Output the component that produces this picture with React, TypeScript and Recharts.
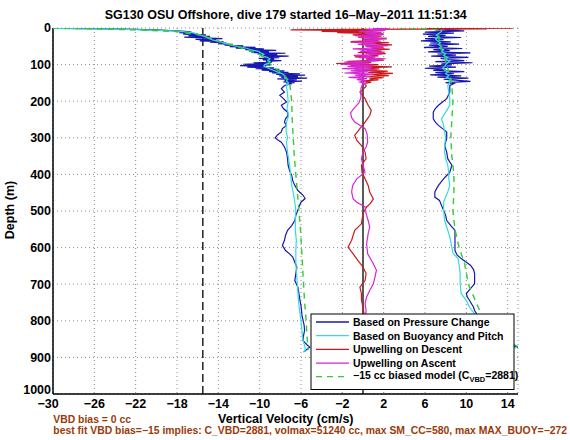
import { ScatterChart, Scatter, XAxis, YAxis, CartesianGrid, ReferenceLine } from 'recharts';

// axes
const X_TICKS = [-30, -26, -22, -18, -14, -10, -6, -2, 2, 6, 10, 14];
const Y_TICKS = [0, 100, 200, 300, 400, 500, 600, 700, 800, 900, 1000];
const X_DOMAIN: [number, number] = [-30, 15];
const Y_DOMAIN: [number, number] = [0, 1000];
const ZERO_LINE = 0;
const BIAS_LINE = -15.5;

// [depth m, vertical velocity cm/s]
const pressureDown: [number, number][] = [
  [1, -30], [2, -26], [3, -23], [5, -20], [7, -18.5], [9, -17.2], [11, -16.6], [13, -17.8], [15, -16], [17, -17.4],
  [19, -15.2], [21, -16.9], [23, -14.8], [25, -17.3], [27, -15.4], [29, -13.6], [31, -16.2], [33, -14.2], [35, -15.8],
  [37, -13.5], [39, -14.8], [41, -13.2], [43, -14], [45, -12.6], [47, -13.4], [49, -11.6], [51, -12.9], [53, -10.4],
  [55, -12.3], [57, -9.6], [59, -11.4], [61, -8.4], [63, -11], [65, -9.1], [67, -10.8], [69, -7.5], [71, -10.2],
  [73, -8.3], [75, -9.9], [77, -7.2], [79, -9.6], [81, -8.1], [83, -10.1], [85, -8.6], [87, -9.7], [89, -7.9],
  [91, -9.4], [93, -8.8], [95, -10.6], [97, -9], [99, -11.6], [101, -8.9], [103, -11.9], [105, -9.4], [107, -11.2],
  [109, -8.6], [111, -10.4], [113, -8.1], [115, -9.8], [117, -7.6], [119, -9.1], [121, -7.2], [123, -8.8], [125, -6.1],
  [127, -8.4], [129, -5.6], [131, -8.1], [133, -6.3], [135, -7.9], [137, -5.4], [139, -8.3], [141, -6.4], [143, -7.6],
  [145, -5.9], [147, -7.7], [149, -6.6], [151, -7.4], [153, -6.9], [156, -7.5],
  [160, -7.7], [166, -7.9], [175, -7.6], [184, -8.05], [193, -7.7], [202, -7.4], [211, -7.9], [220, -7.7], [230, -7.3],
  [239, -7.25], [248, -7.5], [257, -7.6], [266, -7.4], [275, -7.8], [284, -7.9], [293, -8.3], [300, -8.5], [307, -8.2],
  [312, -7.9], [325, -7.6], [339, -7.4], [357, -7.3], [375, -7.25], [390, -7.1], [403, -6.9], [417, -6.8], [430, -6.6],
  [444, -6.3], [457, -5.8], [466, -5.6], [476, -6.0], [489, -6.2], [498, -6.3], [512, -6.5], [526, -6.6], [540, -6.9],
  [553, -7.3], [567, -7.5], [580, -7.6], [594, -7.8], [608, -7.5], [617, -7.1], [626, -6.8], [640, -6.6], [653, -6.4],
  [671, -6.5], [690, -6.6], [708, -6.3], [726, -6.2], [744, -6.1], [758, -6.0], [772, -5.95], [786, -5.9], [799, -5.8],
  [812, -5.7], [826, -5.65], [840, -5.75], [854, -5.8], [866, -5.4], [872, -5.15], [880, -5.5], [885, -5.7],
];

const pressureUp: [number, number][] = [
  [2, 9.5], [5, 7], [8, 9.8], [11, 6], [14, 8.8], [17, 5.8], [20, 8], [23, 6.3], [26, 9.5], [29, 6], [32, 7.8],
  [35, 5.6], [38, 8.5], [41, 6.5], [44, 9.3], [47, 6.4], [50, 8.2], [53, 5.9], [56, 9.6], [59, 6.8], [62, 8.4],
  [65, 6.3], [68, 10.4], [71, 7.2], [74, 9], [77, 6.6], [80, 10.2], [83, 7.5], [86, 8.3], [89, 9.8], [92, 7],
  [95, 10.6], [98, 7.6], [101, 8.6], [104, 6.4], [107, 9], [110, 6], [113, 8], [116, 6.8], [119, 9.8], [122, 7],
  [125, 8.8], [128, 6.5], [131, 9.5], [134, 7.2], [137, 10.2], [140, 7.8], [143, 9.2], [146, 10.4], [149, 8],
  [152, 8.8], [157, 8.4], [175, 8.4], [193, 8.1], [202, 7.7], [211, 7.3], [220, 7.0], [230, 6.8], [248, 6.8],
  [257, 7.0], [266, 7.3], [275, 7.7], [284, 8.1], [302, 8.1], [321, 7.9], [339, 8.1], [357, 8.2], [375, 8.6],
  [394, 8.4], [403, 8.1], [412, 7.8], [430, 7.3], [448, 6.95], [462, 6.95], [471, 7.4], [485, 7.6], [498, 7.8],
  [512, 8.0], [526, 8.1], [540, 8.5], [553, 8.9], [580, 8.9], [608, 8.9], [620, 9.1], [630, 9.5], [640, 10.0],
  [648, 10.4], [660, 10.7], [671, 10.8], [685, 10.8], [699, 10.8], [712, 10.4], [726, 10.0], [735, 10.1], [744, 10.3],
  [763, 10.7], [772, 10.8], [781, 11.0], [800, 11.6], [820, 12.2], [840, 12.8], [860, 13.8], [875, 15.2],
];

const buoyDown: [number, number][] = [
  [1, -30], [2, -27.5], [4, -23], [6, -20.5], [8, -18.5], [10, -17.4], [13, -16.5], [16, -16.1], [20, -15.7],
  [24, -15.2], [28, -15], [32, -14.6], [36, -14.1], [40, -13.6], [44, -13.1], [48, -12.5], [52, -11.8], [56, -11.2],
  [60, -10.8], [64, -10.1], [68, -9.9], [72, -9.6], [76, -9.8], [80, -9.3], [84, -9.0], [88, -9.2], [92, -9.0],
  [96, -9.1], [100, -9.5], [104, -9.6], [108, -9.3], [112, -9.0], [116, -8.6], [120, -8.3], [124, -7.9], [128, -7.7],
  [132, -7.5], [136, -7.6], [140, -7.3], [145, -7.4], [150, -7.2], [155, -7.4],
  [160, -7.4], [180, -7.3], [202, -7.25], [220, -7.35], [240, -7.2], [257, -7.4], [280, -7.45], [300, -7.3],
  [312, -7.4], [340, -7.3], [375, -7.1], [400, -7.0], [430, -6.9], [450, -6.75], [476, -6.6], [498, -6.5],
  [520, -6.55], [553, -6.55], [580, -6.45], [608, -6.5], [640, -6.5], [663, -6.45], [700, -6.35], [744, -6.25],
  [770, -6.15], [800, -6.0], [830, -5.9], [854, -5.8], [872, -5.6], [881, -5.6], [886, -5.8],
];

const buoyUp: [number, number][] = [
  [2, 8], [6, 7.5], [10, 7.6], [15, 7.3], [20, 7.1], [25, 7.4], [30, 7], [35, 7.2], [40, 7.5], [45, 7.3], [50, 7.6],
  [55, 7.4], [60, 7.8], [65, 7.6], [70, 8], [75, 7.8], [80, 8.2], [85, 7.9], [90, 8.4], [95, 8.2], [100, 8],
  [105, 7.9], [110, 7.7], [115, 7.9], [120, 8.2], [125, 8], [130, 8.3], [135, 8.1], [140, 8.5], [145, 8.3], [150, 8.4],
  [157, 8.2], [175, 8.3], [193, 8.4], [211, 8.4], [230, 8.0], [248, 7.6], [266, 7.8], [284, 7.9], [300, 8.0],
  [321, 7.9], [340, 7.9], [357, 8.0], [375, 8.2], [394, 8.3], [412, 8.3], [430, 8.4], [448, 8.2], [462, 8.0],
  [476, 7.8], [498, 7.8], [526, 7.9], [553, 8.2], [571, 8.4], [585, 8.5], [600, 8.6], [615, 8.7], [630, 9.2],
  [648, 9.3], [671, 9.4], [699, 9.4], [726, 9.5], [744, 10.0], [763, 10.3], [781, 10.8], [800, 11.4], [820, 12.0],
  [840, 12.8], [860, 13.6], [875, 14.8],
];

const upwellDescent: [number, number][] = [
  [0.5, 14.5], [1.5, 6], [2.5, 12], [3.5, -1], [5, -7], [7, 2], [9, -4], [11, 1], [13, -2.5], [16, 2], [19, -1],
  [22, 1.8], [25, -0.5], [28, 2.3], [31, 0], [34, 1.5], [37, -1.2], [40, 2.5], [43, 0.5], [46, 2.8], [49, 0.2],
  [52, 2], [55, 0.8], [58, 2.6], [61, 0.4], [64, 1.8], [67, -0.5], [70, 2.2], [73, 0.6], [76, 1.5], [79, -0.8],
  [82, 1.2], [85, 0.3], [88, 2], [91, -1.5], [94, 0.8], [97, -2.6], [100, 1.5], [103, -1.2], [106, 2.8], [109, 0.2],
  [112, 1.6], [115, -0.8], [118, 2.4], [121, 0.5], [124, 2.9], [127, 0.8], [130, 2.5], [133, 0.2], [136, 2],
  [139, 0.6], [142, 1.5], [145, -0.2], [148, 0.8], [152, 0.1], [157, 0.3],
  [160, 0.3], [175, -0.3], [193, 0.2], [211, 0.5], [225, 0.8], [239, 0.65], [257, 0.2], [275, -0.3], [293, -0.8],
  [307, -0.6], [321, -0.15], [339, 0.2], [357, 0.3], [375, -0.15], [394, -0.1], [412, 0.2], [430, 0.5], [448, 0.65],
  [467, 1.0], [480, 0.7], [489, 0.35], [507, 0.0], [535, -0.15], [553, -0.8], [580, -1.1], [599, -1.45], [617, -0.95],
  [635, -0.5], [653, 0.0], [671, 0.3], [690, 0.2], [708, -0.3], [726, -0.15], [744, -0.15], [763, 0.0], [780, 0.1],
  [820, -0.1], [860, 0.1], [880, 0.0],
];

const upwellAscent: [number, number][] = [
  [0.5, 1], [2, 2.5], [4, 0.5], [6, 2.2], [9, -0.4], [12, 1.8], [15, 0.2], [18, 2], [21, -0.8], [24, 1.5],
  [27, -0.2], [30, 2.3], [33, 0], [36, 1.7], [39, -1.2], [42, 1.2], [45, -0.5], [48, 2.4], [51, 0.3], [54, 1.9],
  [57, -1], [60, 1.4], [63, -0.3], [66, 2.1], [69, 0.2], [72, 1.6], [75, -0.9], [78, 1.2], [81, -0.4], [84, 2.2],
  [87, 0.5], [90, 1.5], [93, -1.8], [96, 0.6], [99, -2.2], [102, 1], [105, -1.5], [108, 0.8], [111, -2], [114, 1.3],
  [117, -1.2], [120, 0.5], [123, -1.8], [126, 1], [129, -0.8], [132, 0.7], [135, -1.4], [138, 0.4], [141, -0.6],
  [144, 0.3], [148, -0.3], [152, 0.2], [157, -0.1], [165, -0.2],
  [175, -0.2], [190, -0.2], [205, -0.4], [220, -0.9], [232, -1.2], [245, -1.1], [257, -0.8], [266, -0.3],
  [275, 0.2], [290, 0.4], [312, 0.45], [325, 0.3], [339, 0.0], [357, -0.15], [375, 0.0], [394, 0.2], [412, -0.6],
  [430, -1.0], [448, -1.1], [467, -0.95], [476, -0.6], [489, 0.2], [507, 0.3], [526, 0.5], [544, 0.65], [562, 0.5],
  [590, 0.35], [617, 0.45], [644, 1.0], [662, 1.3], [681, 1.15], [699, 1.0], [717, 0.65], [735, 0.35], [753, 0.2],
  [772, 0.3], [800, 0.2], [840, 0.4], [880, 0.3],
];

const modelDown: [number, number][] = [
  [0, -30], [2, -27], [5, -22], [10, -18], [20, -15.6], [30, -14.6], [40, -13.5], [50, -12.3], [60, -11.2],
  [70, -10.2], [80, -9.6], [90, -9.2], [100, -8.9], [110, -8.5], [120, -8.0], [130, -7.6], [140, -7.3], [150, -7.1],
  [175, -7.0], [200, -6.9], [250, -6.85], [300, -6.75], [350, -6.65], [400, -6.5], [450, -6.35], [500, -6.2],
  [550, -6.05], [600, -5.95], [650, -5.85], [700, -5.75], [750, -5.65], [800, -5.5], [850, -5.4], [880, -5.3],
];

const modelUp: [number, number][] = [
  [0, 3.5], [2, 6.0], [5, 7.2], [10, 7.3], [20, 7.3], [40, 7.4], [60, 7.6], [80, 7.9], [100, 8.1], [120, 8.3],
  [140, 8.5], [160, 8.6], [200, 8.7], [250, 8.6], [300, 8.5], [350, 8.6], [400, 8.8], [450, 8.8], [500, 8.7],
  [550, 8.9], [600, 9.3], [640, 9.8], [700, 10.2], [740, 10.8], [772, 11.3], [800, 11.8], [830, 12.8], [855, 14.0],
  [868, 14.8], [880, 15.6],
];

const BLUE = '#1818b0';
const CYAN = '#33dddd';
const RED = '#cc1818';
const MAGENTA = '#d626d6';
const GREEN = '#33cc33';
const BROWN = '#9a3a0a';
const FONT = '"Liberation Sans", Arial, Helvetica, sans-serif';

const toPts = (rows: [number, number][]) => rows.map(([d, v]) => ({ d, v }));
const noShape = () => <g />;
const fmtX = (v: number) => (v < 0 ? `\u2212${-v}` : `${v}`);

const series = [
  { key: 'pd', rows: pressureDown, color: BLUE },
  { key: 'pu', rows: pressureUp, color: BLUE },
  { key: 'bd', rows: buoyDown, color: CYAN },
  { key: 'bu', rows: buoyUp, color: CYAN },
  { key: 'ud', rows: upwellDescent, color: RED },
  { key: 'ua', rows: upwellAscent, color: MAGENTA },
  { key: 'md', rows: modelDown, color: GREEN, dash: '6 5' },
  { key: 'mu', rows: modelUp, color: GREEN, dash: '6 5' },
];

const legendItems = [
  { label: 'Based on Pressure Change', color: BLUE },
  { label: 'Based on Buoyancy and Pitch', color: CYAN },
  { label: 'Upwelling on Descent', color: RED },
  { label: 'Upwelling on Ascent', color: MAGENTA },
];

// MATLAB nudges the corner labels apart (last y label up, first x label left)
function YTick(props: any) {
  const { x, y, payload } = props;
  const shift = payload.value === Y_DOMAIN[1] ? -4 : 0;
  return (
    <text x={x} y={y + shift} dy={4.4} textAnchor="end" fill="#000" fontSize={12.5} fontWeight="bold" fontFamily={FONT}>
      {payload.value}
    </text>
  );
}

function XTick(props: any) {
  const { x, y, payload } = props;
  const shift = payload.value === X_DOMAIN[0] ? -5 : 0;
  return (
    <text x={x + shift} y={y} dy={8.9} textAnchor="middle" fill="#000" fontSize={12.5} fontWeight="bold" fontFamily={FONT}>
      {fmtX(payload.value)}
    </text>
  );
}

export default function App() {
  const rowY = [322, 335.7, 349.4, 363.1, 376.6];
  return (
    <div style={{ position: 'absolute', left: 0, top: 0, width: 570, height: 440, background: '#fff' }}>
      <ScatterChart width={570} height={440} margin={{ top: 28, right: 52, bottom: 26, left: 0 }}>
        <CartesianGrid stroke="#8a8a8a" strokeDasharray="1 3" />
        <XAxis
          type="number"
          dataKey="v"
          domain={X_DOMAIN}
          ticks={X_TICKS}
          allowDataOverflow
          height={20}
          tickSize={0}
          tickMargin={5}
          tickLine={false}
          tick={XTick}
          axisLine={{ stroke: '#000', strokeWidth: 1.5 }}
        />
        <YAxis
          type="number"
          dataKey="d"
          domain={Y_DOMAIN}
          ticks={Y_TICKS}
          reversed
          allowDataOverflow
          width={53}
          tickSize={0}
          tickMargin={2}
          tickLine={false}
          tick={YTick}
          axisLine={{ stroke: '#000', strokeWidth: 1.5 }}
        />
        <XAxis xAxisId="b" type="number" domain={X_DOMAIN} ticks={X_TICKS} orientation="bottom" mirror height={0}
          tick={false} tickSize={5} axisLine={false} tickLine={{ stroke: '#000' }} />
        <XAxis xAxisId="t" type="number" domain={X_DOMAIN} ticks={X_TICKS} orientation="top" mirror height={0}
          tick={false} tickSize={5} axisLine={{ stroke: '#000', strokeWidth: 1.5 }} tickLine={{ stroke: '#000' }} />
        <YAxis yAxisId="l" type="number" domain={Y_DOMAIN} ticks={Y_TICKS} reversed orientation="left" mirror width={0}
          tick={false} tickSize={5} axisLine={false} tickLine={{ stroke: '#000' }} />
        <YAxis yAxisId="r" type="number" domain={Y_DOMAIN} ticks={Y_TICKS} reversed orientation="right" mirror width={0}
          tick={false} tickSize={5} axisLine={{ stroke: '#000', strokeWidth: 1.5 }} tickLine={{ stroke: '#000' }} />
        <ReferenceLine x={BIAS_LINE} stroke="#000" strokeWidth={1.3} strokeDasharray="8 4" />
        <ReferenceLine x={ZERO_LINE} stroke="#000" strokeWidth={1.3} />
        {series.map((s) => (
          <Scatter
            key={s.key}
            data={toPts(s.rows)}
            fill={s.color}
            shape={noShape}
            line={{ stroke: s.color, strokeWidth: s.dash ? 1.4 : 1.2, strokeDasharray: s.dash }}
            isAnimationActive={false}
          />
        ))}
      </ScatterChart>
      <svg
        width={570}
        height={440}
        style={{ position: 'absolute', left: 0, top: 0, pointerEvents: 'none', overflow: 'visible' }}
        fontFamily={FONT}
        fontWeight="bold"
      >
        <text x={285.8} y={18.5} fontSize={12.5} textAnchor="middle" fill="#000">
          SG130 OSU Offshore, dive 179 started 16–May–2011 11:51:34
        </text>
        <text x={285.8} y={422.5} fontSize={12.5} textAnchor="middle" fill="#000">
          Vertical Velocity (cm/s)
        </text>
        <text transform="translate(14,210) rotate(-90)" fontSize={12.5} textAnchor="middle" fill="#000">
          Depth (m)
        </text>
        <text x={53.3} y={423} fontSize={10.4} fill={BROWN}>
          VBD bias = 0 cc
        </text>
        <text x={53.3} y={434} fontSize={10.4} fill={BROWN}>
          best fit VBD bias=−15 implies: C_VBD=2881, volmax=51240 cc, max SM_CC=580, max MAX_BUOY=−272
        </text>
        <rect x={311} y={314} width={203} height={75.5} fill="#fff" stroke="#000" strokeWidth={1} />
        {legendItems.map((it, i) => (
          <g key={it.label}>
            <line x1={316} x2={349} y1={rowY[i]} y2={rowY[i]} stroke={it.color} strokeWidth={1.3} />
            <text x={353} y={rowY[i] + 3.8} fontSize={10.5} fill="#000">
              {it.label}
            </text>
          </g>
        ))}
        <line x1={316} x2={349} y1={rowY[4]} y2={rowY[4]} stroke={GREEN} strokeWidth={1.4} strokeDasharray="6 5" />
        <text x={353} y={rowY[4] + 2.6} fontSize={10.5} fill="#000">
          −15 cc biased model (C
          <tspan fontSize={7.5} dy={2.5}>VBD</tspan>
          <tspan dy={-2.5}>=2881)</tspan>
        </text>
      </svg>
    </div>
  );
}
